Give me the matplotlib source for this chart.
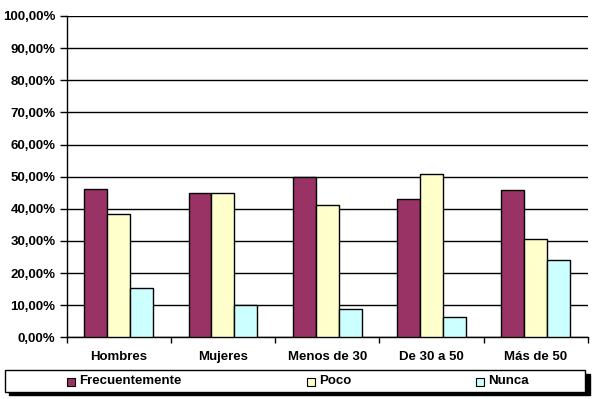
import matplotlib
matplotlib.use("Agg")
import matplotlib.pyplot as plt
import numpy as np
from matplotlib.patches import Rectangle
from matplotlib.ticker import FuncFormatter, MultipleLocator, FixedLocator

categories = ["Hombres", "Mujeres", "Menos de 30", "De 30 a 50", "Más de 50"]
series_names = ["Frecuentemente", "Poco", "Nunca"]
frecuentemente = [46.2, 45.0, 49.8, 43.1, 45.9]
poco = [38.4, 45.0, 41.1, 50.9, 30.6]
nunca = [15.3, 10.0, 8.8, 6.2, 24.1]
colors = ["#993366", "#FFFFCC", "#CCFFFF"]

plt.rcParams['font.family'] = ['Liberation Sans', 'DejaVu Sans']
plt.rcParams['font.weight'] = 'bold'

fig = plt.figure(figsize=(5.93, 3.99), dpi=100)
W, H = 593, 399
ax = fig.add_axes([66.5 / W, 1 - 337.3 / H, (588 - 66.5) / W, (337.3 - 16) / H])

x = np.arange(len(categories))
bw = 0.22
data = [frecuentemente, poco, nunca]
for i, (vals, c) in enumerate(zip(data, colors)):
    ax.bar(x + (i - 1) * bw, vals, bw, color=c, edgecolor='black', linewidth=1.0, zorder=3)

ax.set_xlim(-0.5, len(categories) - 0.5)
ax.set_ylim(0, 100)
ax.yaxis.set_major_locator(MultipleLocator(10))
ax.yaxis.set_major_formatter(FuncFormatter(lambda v, p: f"{v:.2f}".replace('.', ',') + "%"))
ax.grid(axis='y', color='black', linewidth=1.0, zorder=0)
ax.set_xticks(x)
ax.set_xticklabels(categories, fontsize=9.5, fontweight='bold')
ax.tick_params(axis='x', which='major', length=0, pad=10)
ax.xaxis.set_minor_locator(FixedLocator(np.arange(-0.5, len(categories), 1.0)))
ax.tick_params(axis='x', which='minor', length=4, width=1, direction='out')
ax.tick_params(axis='y', length=5, width=1, direction='out', labelsize=9.5, pad=3)
for lab in ax.get_yticklabels():
    lab.set_fontweight('bold')
for s in ['top', 'right']:
    ax.spines[s].set_visible(False)
for s in ['left', 'bottom']:
    ax.spines[s].set_linewidth(1.0)

def fx(px):
    return px / W
def fy(py):
    return 1 - py / H

shadow = Rectangle((fx(9), fy(395)), fx(590) - fx(9), fy(374) - fy(395),
                   transform=fig.transFigure, facecolor='black', edgecolor='black', zorder=1)
frame = Rectangle((fx(5), fy(392)), fx(585) - fx(5), fy(370) - fy(392),
                  transform=fig.transFigure, facecolor='white', edgecolor='black',
                  linewidth=1.0, zorder=2)
fig.patches.extend([shadow, frame])
marker_x = [67, 307, 476]
for name, c, mx in zip(series_names, colors, marker_x):
    fig.patches.append(Rectangle((fx(mx), fy(386)), 8 / W, 8 / H, transform=fig.transFigure,
                                 facecolor=c, edgecolor='black', linewidth=0.8, zorder=3))
    fig.text(fx(mx + 12), fy(381.5), name, fontsize=9.5, fontweight='bold', va='center', ha='left', zorder=4)

fig.savefig("out.png", dpi=100)
